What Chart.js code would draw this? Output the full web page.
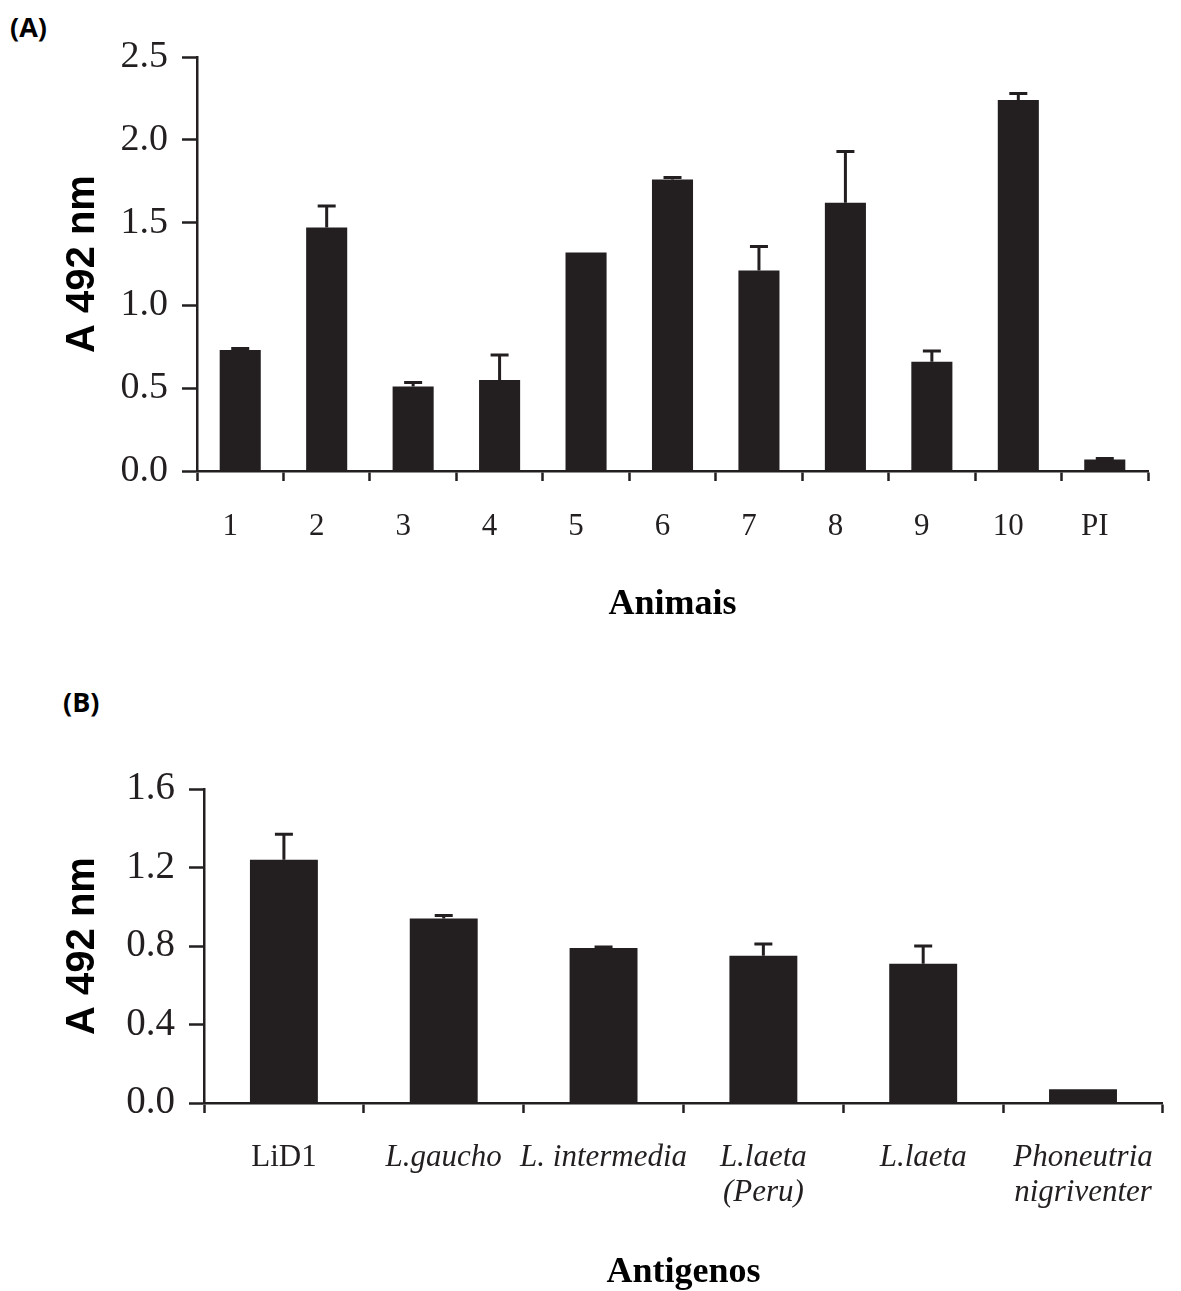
<!DOCTYPE html>
<html>
<head>
<meta charset="utf-8">
<script src="https://cdn.jsdelivr.net/npm/chart.js@4/dist/chart.umd.min.js"></script>
<style>
  html, body { margin: 0; padding: 0; background: #fff; }
  body { width: 1181px; height: 1291px; position: relative; overflow: hidden; }
  .wrap { position: absolute; left: 0; }
  .panel { position: absolute; font-family: "Open Sans", "Liberation Sans", sans-serif; font-weight: 700; font-size: 27px; line-height: 1; color: #000; }
</style>
</head>
<body>
<div class="panel" style="left:10px; top:13px;">(A)</div>
<div class="panel" style="left:63px; top:688px;">(B)</div>
<div class="wrap" style="top:0; width:1181px; height:650px;"><canvas id="chartA" width="1181" height="650"></canvas></div>
<div class="wrap" style="top:650px; width:1181px; height:641px;"><canvas id="chartB" width="1181" height="641"></canvas></div>
<script>
// ---- Data ----
const categoriesA = ['1', '2', '3', '4', '5', '6', '7', '8', '9', '10', 'PI'];
const valuesA = [0.73, 1.47, 0.51, 0.55, 1.32, 1.76, 1.21, 1.62, 0.66, 2.24, 0.07];
const errorsA = [0.01, 0.13, 0.025, 0.15, 0.0, 0.012, 0.145, 0.31, 0.065, 0.04, 0.005];
const yTicksA = [0, 0.5, 1.0, 1.5, 2.0, 2.5];

const categoriesB = ['LiD1', 'L.gaucho', 'L. intermedia', ['L.laeta', '(Peru)'], 'L.laeta', ['Phoneutria', 'nigriventer']];
const italicB = [false, true, true, true, true, true];
const valuesB = [1.24, 0.94, 0.79, 0.75, 0.71, 0.07];
const errorsB = [0.13, 0.015, 0.005, 0.06, 0.09, 0.0];
const yTicksB = [0, 0.4, 0.8, 1.2, 1.6];

const INK = '#231f20';

const errorBarPlugin = {
  id: 'errorBars',
  afterDatasetsDraw(chart, args, opts) {
    const ctx = chart.ctx;
    const meta = chart.getDatasetMeta(0);
    const yScale = chart.scales.y;
    const vals = chart.data.datasets[0].data;
    const errs = opts.errors;
    ctx.save();
    ctx.strokeStyle = INK;
    ctx.lineWidth = 3;
    ctx.lineCap = 'butt';
    meta.data.forEach((bar, i) => {
      const e = errs[i];
      if (!e) return;
      const x = bar.x;
      const yTop = yScale.getPixelForValue(vals[i] + e);
      const yBar = yScale.getPixelForValue(vals[i]);
      ctx.beginPath();
      ctx.moveTo(x, yBar);
      ctx.lineTo(x, yTop);
      ctx.moveTo(x - opts.cap / 2, yTop);
      ctx.lineTo(x + opts.cap / 2, yTop);
      ctx.stroke();
    });
    ctx.restore();
  }
};

function makeChart(id, cfg) {
  return new Chart(document.getElementById(id), {
    type: 'bar',
    data: {
      labels: cfg.labels,
      datasets: [{
        data: cfg.values,
        backgroundColor: INK,
        borderWidth: 0,
        barPercentage: cfg.barPct,
        categoryPercentage: 1.0
      }]
    },
    options: {
      responsive: false,
      animation: false,
      devicePixelRatio: 1,
      layout: { padding: cfg.layoutPadding },
      plugins: {
        legend: { display: false },
        tooltip: { enabled: false },
        errorBars: { errors: cfg.errors, cap: 18 }
      },
      scales: {
        x: {
          afterFit(s) { s.height = cfg.xHeight; },
          grid: { drawOnChartArea: false, offset: true, tickLength: 10, tickWidth: 2.5, tickColor: INK, color: INK },
          border: { color: INK, width: 2.5 },
          ticks: {
            color: INK,
            padding: cfg.xTickPad,
            labelOffset: cfg.xLabelOffset,
            maxRotation: 0,
            autoSkip: false,
            font: (c) => {
              const it = cfg.italic && cfg.italic[c.index];
              return { family: 'Liberation Serif', size: cfg.xFont,
                       lineHeight: cfg.xLineHeight, style: it ? 'italic' : 'normal' };
            }
          },
          title: {
            display: true,
            text: cfg.xTitle,
            color: '#000',
            font: { family: 'Liberation Serif', size: 36, weight: 'bold', lineHeight: 1 },
            padding: { top: 0, bottom: cfg.xTitlePad }
          }
        },
        y: {
          min: 0,
          max: cfg.yTicks[cfg.yTicks.length - 1],
          afterFit(s) { s.width = cfg.yWidth; },
          afterBuildTicks(s) { s.ticks = cfg.yTicks.map(v => ({ value: v })); },
          grid: { drawOnChartArea: false, tickLength: 15, tickWidth: 2.5, tickColor: INK, color: INK },
          border: { color: INK, width: 2.5 },
          ticks: {
            color: INK,
            padding: 14,
            font: { family: 'Liberation Serif', size: cfg.yFont },
            callback: (v) => Number(v).toFixed(1)
          },
          title: {
            display: true,
            text: 'A 492 nm',
            color: '#000',
            font: { family: 'Liberation Sans', size: 40, weight: 'bold', lineHeight: 1.2 },
            padding: { top: 59, bottom: 0 }
          }
        }
      }
    },
    plugins: [errorBarPlugin]
  });
}

makeChart('chartA', {
  labels: categoriesA, values: valuesA, errors: errorsA, yTicks: yTicksA,
  barPct: 0.475, layoutPadding: { top: 57, right: 33, bottom: 0, left: 0 },
  xHeight: 179, yWidth: 197, xTickPad: 27, xLabelOffset: -10,
  xFont: 31, xLineHeight: 1.2,
  xTitle: 'Animais', xTitlePad: 27, yFont: 38
});

makeChart('chartB', {
  labels: categoriesB, values: valuesB, errors: errorsB, yTicks: yTicksB, italic: italicB,
  barPct: 0.425, layoutPadding: { top: 139, right: 15, bottom: 0, left: 0 },
  xHeight: 188, yWidth: 204, xTickPad: 27, xLabelOffset: 0,
  xFont: 31, xLineHeight: 1.13,
  xTitle: 'Antigenos', xTitlePad: 0, yFont: 39
});
</script>
</body>
</html>
